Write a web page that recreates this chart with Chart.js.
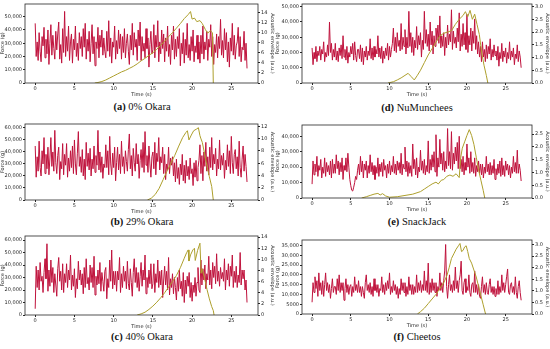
<!DOCTYPE html>
<html>
<head>
<meta charset="utf-8">
<script src="https://cdn.jsdelivr.net/npm/chart.js@4.4.1/dist/chart.umd.min.js"></script>
<style>
  body { margin: 0; background: #fff; }
  #fig { position: relative; width: 550px; height: 349px; overflow: hidden; }
  canvas { position: absolute; }
  .cap { position: absolute; width: 200px; text-align: center; font-family: "Liberation Serif", "DejaVu Serif", serif;
         font-size: 10.5px; color: #111; line-height: 12px; }
</style>
</head>
<body>
<div id="fig">
  <canvas id="ca" width="275" height="98"></canvas>
  <canvas id="cb" width="275" height="96"></canvas>
  <canvas id="cc" width="275" height="99"></canvas>
  <canvas id="cd" width="275" height="98"></canvas>
  <canvas id="ce" width="275" height="93"></canvas>
  <canvas id="cf" width="275" height="94"></canvas>
  <div class="cap" id="capa"><b>(a)</b> 0% Okara</div>
  <div class="cap" id="capb"><b>(b)</b> 29% Okara</div>
  <div class="cap" id="capc"><b>(c)</b> 40% Okara</div>
  <div class="cap" id="capd"><b>(d)</b> NuMunchees</div>
  <div class="cap" id="cape"><b>(e)</b> SnackJack</div>
  <div class="cap" id="capf"><b>(f)</b> Cheetos</div>
</div>
<script>
// force sampled every 0.125 s from 0 to 27 s
const sampleStep = 0.125;
const timeTicks = [0, 5, 10, 15, 20, 25];

// (a) 0% Okara
const forceA = [
  45000, 20000, 31000, 17000, 38000, 24000, 16000, 35000, 28000, 42000, 19000, 33000, 22000, 40000, 14000, 30000, 44000, 21000, 36000, 26000, 18000, 39000, 25000, 37000,
  46000, 18000, 29000, 15000, 41000, 23000, 54000, 20000, 35000, 24000, 43000, 17000, 31000, 37000, 15000, 33000, 25000, 43000, 20000, 30000, 17000, 38000, 26000, 35000,
  20000, 41000, 27000, 45000, 18000, 33000, 24000, 39000, 16000, 30000, 44000, 22000, 35000, 13000, 31000, 26000, 42000, 19000, 36000, 27000, 40000, 21000, 34000, 24000,
  19000, 39000, 24000, 47000, 20000, 34000, 15000, 31000, 27000, 43000, 18000, 32000, 22000, 40000, 26000, 37000, 18000, 35000, 23000, 41000, 19000, 30000, 37000, 24000,
  14000, 36000, 25000, 45000, 21000, 38000, 27000, 33000, 17000, 40000, 28000, 46000, 17000, 35000, 24000, 30000, 19000, 41000, 26000, 34000, 12000, 29000, 39000, 22000,
  25000, 44000, 19000, 36000, 27000, 47000, 16000, 31000, 22000, 40000, 26000, 37000, 16000, 34000, 24000, 43000, 20000, 29000, 14000, 36000, 25000, 43000, 18000, 33000,
  20000, 35000, 26000, 41000, 13000, 30000, 22000, 38000, 15000, 33000, 21000, 45000, 19000, 29000, 17000, 35000, 24000, 40000, 16000, 28000, 23000, 36000, 18000, 31000,
  15000, 36000, 22000, 43000, 18000, 31000, 25000, 39000, 17000, 33000, 27000, 44000, 20000, 35000, 14000, 29000, 23000, 37000, 19000, 35000, 26000, 48000, 21000, 32000,
  19000, 41000, 25000, 38000, 16000, 31000, 12000, 34000, 24000, 45000, 21000, 36000, 18000, 28000, 31000, 42000, 20000, 35000, 16000, 27000, 25000, 39000, 17000, 30000,
  11000
];
const acTimeA = [7.6, 8, 8.5, 9, 9.5, 10, 10.5, 11, 11.5, 12, 12.5, 13, 13.5, 14, 14.5, 15, 15.5, 16, 16.5, 17,
  17.5, 18, 18.5, 19, 19.5, 19.8, 20, 20.3, 20.6, 21, 21.3, 21.7, 22, 22.3, 22.6, 22.7];
const acValA = [0, 0.1, 0.3, 0.6, 1.0, 1.4, 1.8, 2.2, 2.5, 2.9, 3.3, 3.8, 4.4, 4.9, 5.5, 6.0, 6.7, 7.5, 8.3, 9.2,
  10.0, 10.9, 11.8, 12.8, 13.6, 14.2, 12.7, 12.9, 12.2, 12.4, 11.8, 10.6, 9.9, 10.4, 10.0, 0];
const forceTicksA = [0, 10000, 20000, 30000, 40000, 50000];
const acTicksA = [0, 2, 4, 6, 8, 10, 12, 14];

// (b) 29% Okara
const forceB = [
  45000, 19000, 36000, 24000, 49000, 27000, 20000, 41000, 30000, 52000, 22000, 38000, 26000, 44000, 21000, 35000, 52000, 28000, 40000, 24000, 58000, 31000, 22000, 37000,
  44000, 17000, 32000, 26000, 47000, 21000, 38000, 29000, 47000, 19000, 35000, 24000, 41000, 27000, 45000, 22000, 50000, 30000, 21000, 39000, 57000, 28000, 36000, 23000,
  42000, 20000, 34000, 17000, 48000, 28000, 39000, 25000, 43000, 20000, 34000, 26000, 45000, 23000, 37000, 29000, 58000, 25000, 40000, 23000, 36000, 18000, 30000, 27000,
  46000, 27000, 41000, 21000, 53000, 30000, 21000, 39000, 27000, 44000, 16000, 31000, 44000, 25000, 38000, 22000, 49000, 28000, 36000, 22000, 41000, 32000, 24000, 42000,
  55000, 26000, 37000, 20000, 43000, 31000, 24000, 47000, 30000, 38000, 18000, 33000, 42000, 27000, 48000, 23000, 57000, 29000, 37000, 23000, 45000, 30000, 19000, 36000,
  40000, 26000, 48000, 21000, 39000, 32000, 52000, 25000, 36000, 31000, 44000, 22000, 38000, 17000, 30000, 25000, 44000, 22000, 35000, 29000, 36000, 20000, 31000, 15000,
  34000, 18000, 27000, 13000, 30000, 21000, 38000, 16000, 29000, 14000, 33000, 20000, 28000, 17000, 35000, 22000, 26000, 12000, 31000, 19000, 33000, 16000, 27000, 33000,
  46000, 22000, 37000, 16000, 40000, 28000, 48000, 24000, 36000, 21000, 44000, 27000, 52000, 25000, 38000, 30000, 43000, 20000, 34000, 26000, 50000, 25000, 37000, 29000,
  39000, 18000, 33000, 25000, 46000, 28000, 41000, 22000, 53000, 31000, 22000, 38000, 42000, 26000, 36000, 20000, 49000, 27000, 19000, 34000, 45000, 24000, 38000, 28000,
  15000
];
const acTimeB = [14.3, 14.8, 15.3, 15.8, 16.3, 16.8, 17.3, 17.8, 18.3, 18.8, 19.2, 19.4, 19.6, 19.9, 20.2, 20.6,
  20.8, 21.0, 21.1, 21.3, 21.6, 21.9, 22.2, 22.5, 22.7];
const acValB = [0, 0.3, 0.9, 1.9, 3.3, 4.7, 6.0, 7.3, 8.8, 10.2, 11.0, 11.3, 9.8, 10.6, 11.3, 11.6,
  11.8, 10.5, 10.1, 9.4, 7.5, 5.5, 3.8, 2.2, 0];
const forceTicksB = [0, 10000, 20000, 30000, 40000, 50000, 60000];
const acTicksB = [0, 2, 4, 6, 8, 10, 12];

// (c) 40% Okara
const forceC = [
  5000, 39000, 22000, 36000, 20000, 42000, 27000, 31000, 18000, 34000, 45000, 29000, 57000, 19000, 36000, 23000, 44000, 26000, 38000, 18000, 33000, 24000, 15000, 37000,
  46000, 27000, 35000, 20000, 41000, 18000, 33000, 26000, 41000, 22000, 36000, 28000, 48000, 20000, 32000, 23000, 37000, 14000, 29000, 21000, 43000, 28000, 36000, 24000,
  33000, 17000, 38000, 22000, 45000, 25000, 30000, 20000, 40000, 26000, 38000, 22000, 47000, 16000, 31000, 24000, 36000, 25000, 42000, 19000, 34000, 27000, 19000, 35000,
  38000, 13000, 29000, 22000, 44000, 27000, 52000, 21000, 35000, 24000, 35000, 19000, 35000, 28000, 46000, 18000, 33000, 22000, 39000, 27000, 35000, 21000, 43000, 25000,
  20000, 37000, 26000, 15000, 34000, 45000, 26000, 38000, 22000, 34000, 19000, 31000, 42000, 23000, 36000, 28000, 48000, 17000, 30000, 22000, 36000, 25000, 41000, 21000,
  25000, 41000, 18000, 33000, 26000, 44000, 22000, 35000, 24000, 36000, 14000, 28000, 39000, 24000, 35000, 20000, 46000, 16000, 29000, 22000, 33000, 17000, 30000, 22000,
  12000, 30000, 19000, 36000, 21000, 27000, 15000, 34000, 10000, 28000, 17000, 31000, 23000, 34000, 14000, 26000, 11000, 24000, 18000, 30000, 15000, 26000, 38000, 20000,
  18000, 44000, 24000, 37000, 28000, 40000, 21000, 33000, 28000, 47000, 24000, 36000, 21000, 42000, 30000, 39000, 25000, 49000, 27000, 35000, 23000, 38000, 29000, 34000,
  27000, 45000, 20000, 36000, 28000, 41000, 23000, 39000, 31000, 48000, 22000, 35000, 26000, 39000, 22000, 32000, 26000, 50000, 24000, 36000, 29000, 36000, 20000, 28000,
  10000
];
const acTimeC = [13.0, 13.5, 14, 14.5, 15, 15.5, 16, 16.5, 17, 17.5, 18, 18.5, 19, 19.3, 19.5, 19.6, 19.8, 20.1,
  20.3, 20.4, 20.7, 21.0, 21.15, 21.3, 21.6, 21.9, 22.2, 22.5, 22.7, 22.8];
const acValC = [0, 0.2, 0.5, 1.0, 1.6, 2.3, 3.1, 4.0, 5.0, 6.0, 7.1, 8.5, 10.2, 11.2, 11.7, 9.7, 10.8, 11.7,
  12.0, 9.8, 11.6, 12.9, 7.5, 8.3, 6.5, 4.6, 2.9, 1.5, 0.8, 0];
const forceTicksC = [0, 10000, 20000, 30000, 40000, 50000, 60000];
const acTicksC = [0, 2, 4, 6, 8, 10, 12, 14];

// (d) NuMunchees
const forceD = [
  23000, 12000, 20000, 16000, 24000, 14000, 21000, 18000, 24000, 15000, 22000, 19000, 27000, 14000, 20000, 17000, 25000, 18000, 40000, 20000, 26000, 15000, 22000, 17000,
  26000, 15000, 21000, 14000, 23000, 18000, 25000, 16000, 31000, 17000, 22000, 15000, 24000, 13000, 20000, 17000, 24000, 19000, 26000, 15000, 27000, 18000, 14000, 22000,
  22000, 16000, 25000, 14000, 23000, 12000, 21000, 17000, 24000, 15000, 21000, 18000, 29000, 16000, 23000, 15000, 24000, 17000, 22000, 19000, 31000, 17000, 23000, 16000,
  24000, 13000, 21000, 16000, 23000, 18000, 26000, 15000, 24000, 17000, 22000, 26000, 36000, 21000, 30000, 20000, 33000, 24000, 28000, 21000, 39000, 22000, 30000, 24000,
  35000, 19000, 30000, 23000, 47000, 24000, 33000, 20000, 30000, 18000, 28000, 23000, 37000, 22000, 31000, 25000, 33000, 17000, 28000, 22000, 47000, 26000, 35000, 24000,
  32000, 21000, 40000, 25000, 34000, 19000, 31000, 24000, 36000, 28000, 38000, 26000, 44000, 23000, 31000, 24000, 33000, 18000, 30000, 23000, 38000, 25000, 32000, 27000,
  48000, 22000, 34000, 26000, 30000, 23000, 36000, 27000, 46000, 21000, 32000, 24000, 39000, 25000, 33000, 22000, 45000, 20000, 31000, 25000, 36000, 21000, 34000, 26000,
  42000, 22000, 31000, 19000, 27000, 17000, 24000, 14000, 27000, 17000, 22000, 14000, 25000, 16000, 24000, 19000, 29000, 15000, 22000, 17000, 25000, 18000, 21000, 15000,
  24000, 11000, 20000, 16000, 26000, 14000, 21000, 17000, 23000, 13000, 20000, 16000, 27000, 15000, 21000, 17000, 23000, 12000, 19000, 16000, 25000, 14000, 21000, 17000,
  10000
];
const acTimeD = [9.8, 10.5, 11, 11.5, 12, 12.4, 12.8, 13.2, 13.6, 14, 14.5, 15, 15.5, 16, 16.5, 17, 17.5, 18,
  18.5, 19, 19.5, 19.8, 20.1, 20.4, 20.7, 21, 21.3, 21.6, 21.9, 22.2, 22.5, 22.7];
const acValD = [0, 0.05, 0.12, 0.2, 0.3, 0.38, 0.25, 0.12, 0.3, 0.5, 0.8, 1.1, 1.35, 1.6, 1.85, 1.95, 2.0, 2.05,
  2.3, 2.5, 2.65, 2.8, 2.6, 2.85, 2.5, 2.7, 2.3, 1.9, 1.2, 0.7, 0.3, 0];
const forceTicksD = [0, 10000, 20000, 30000, 40000, 50000];
const acTicksD = [0, 0.5, 1.0, 1.5, 2.0, 2.5, 3.0];

// (e) SnackJack
const forceE = [
  9000, 24000, 15000, 22000, 17000, 27000, 14000, 21000, 18000, 25000, 13000, 20000, 16000, 26000, 14000, 23000, 17000, 21000, 15000, 24000, 13000, 25000, 16000, 22000,
  16000, 28000, 19000, 24000, 15000, 23000, 17000, 26000, 12000, 21000, 18000, 26000, 17000, 29000, 20000, 12000, 8000, 5000, 4500, 7000, 10000, 14000, 12000, 18000,
  22000, 15000, 27000, 17000, 24000, 13000, 22000, 18000, 24000, 13000, 21000, 16000, 28000, 17000, 23000, 15000, 21000, 12000, 20000, 16000, 26000, 14000, 22000, 17000,
  23000, 14000, 25000, 18000, 21000, 13000, 22000, 16000, 24000, 15000, 21000, 17000, 27000, 16000, 22000, 15000, 24000, 18000, 23000, 16000, 29000, 15000, 22000, 19000,
  33000, 17000, 24000, 14000, 23000, 16000, 21000, 14000, 35000, 19000, 25000, 15000, 26000, 13000, 20000, 17000, 31000, 18000, 24000, 16000, 25000, 15000, 21000, 17000,
  37000, 16000, 25000, 18000, 28000, 20000, 30000, 17000, 41000, 14000, 26000, 20000, 38000, 22000, 29000, 18000, 30000, 17000, 24000, 19000, 45000, 21000, 30000, 19000,
  43000, 18000, 29000, 22000, 33000, 24000, 36000, 19000, 40000, 19000, 25000, 17000, 27000, 15000, 23000, 18000, 35000, 20000, 26000, 16000, 30000, 17000, 23000, 16000,
  26000, 14000, 21000, 17000, 24000, 16000, 22000, 15000, 22000, 13000, 20000, 16000, 27000, 17000, 22000, 15000, 23000, 15000, 21000, 16000, 25000, 12000, 19000, 15000,
  22000, 16000, 24000, 14000, 26000, 15000, 21000, 14000, 24000, 18000, 22000, 15000, 21000, 13000, 20000, 16000, 27000, 17000, 23000, 16000, 31000, 16000, 22000, 18000,
  11000
];
const acTimeE = [6.4, 7, 7.5, 8, 8.5, 8.8, 9.1, 9.5, 10, 11, 12, 13, 14, 14.5, 15, 15.5, 16, 16.3, 16.7, 17,
  17.4, 17.8, 18.2, 18.6, 19, 19.2, 19.4, 19.7, 20, 20.3, 20.6, 20.9, 21.2, 21.5, 21.8, 22.1, 22.3];
const acValE = [0, 0.05, 0.1, 0.15, 0.18, 0.12, 0.17, 0.08, 0.03, 0.05, 0.1, 0.15, 0.25, 0.35, 0.45, 0.55, 0.62, 0.55, 0.7, 0.72,
  0.85, 0.9, 0.85, 0.95, 0.8, 1.6, 1.95, 2.2, 2.45, 2.68, 2.45, 2.1, 1.6, 1.1, 0.7, 0.3, 0];
const forceTicksE = [0, 10000, 20000, 30000, 40000];
const acTicksE = [0, 0.5, 1.0, 1.5, 2.0, 2.5];

// (f) Cheetos
const forceF = [
  6000, 16000, 11000, 19000, 13000, 17000, 9000, 21000, 12000, 16000, 10000, 17000, 9000, 15000, 21000, 12000, 16000, 11000, 15000, 8000, 13000, 18000, 11000, 14000,
  14000, 10000, 18000, 12000, 20000, 11000, 16000, 12000, 16000, 7000, 13000, 18000, 11000, 15000, 10000, 14000, 15000, 9000, 14000, 11000, 19000, 12000, 15000, 11000,
  17000, 11000, 14000, 9000, 14000, 11000, 8000, 16000, 20000, 12000, 15000, 11000, 16000, 10000, 14000, 9000, 18000, 12000, 15000, 11000, 15000, 9000, 13000, 12000,
  19000, 11000, 15000, 10000, 16000, 12000, 17000, 13000, 21000, 10000, 14000, 11000, 17000, 12000, 15000, 10000, 14000, 8000, 13000, 10000, 18000, 12000, 16000, 11000,
  16000, 9000, 14000, 10000, 19000, 12000, 15000, 10000, 15000, 10000, 14000, 11000, 20000, 11000, 16000, 12000, 17000, 11000, 15000, 12000, 22000, 12000, 17000, 11000,
  26000, 10000, 16000, 11000, 18000, 12000, 16000, 11000, 16000, 9000, 14000, 12000, 21000, 12000, 16000, 11000, 17000, 22000, 35500, 14000, 8000, 15000, 20000, 12000,
  15000, 11000, 17000, 12000, 24000, 13000, 17000, 11000, 17000, 20000, 27000, 12000, 10000, 16000, 18000, 11000, 14000, 12000, 20000, 11000, 9000, 15000, 16000, 11000,
  22000, 11000, 15000, 10000, 15000, 9000, 8000, 14000, 19000, 11000, 15000, 10000, 16000, 11000, 10000, 15000, 18000, 11000, 14000, 10000, 14000, 9000, 13000, 10000,
  17000, 10000, 14000, 11000, 20000, 12000, 16000, 11000, 15000, 19000, 23000, 11000, 10000, 15000, 16000, 11000, 14000, 10000, 19000, 11000, 8000, 14000, 17000, 11000,
  7000
];
const acTimeF = [13.6, 14, 14.5, 15, 15.5, 16, 16.5, 17, 17.4, 17.7, 18, 18.3, 18.6, 18.9, 19.1, 19.3, 19.5, 19.7,
  19.9, 20.1, 20.3, 20.6, 20.9, 21.2, 21.5, 21.8, 22.1, 22.4];
const acValF = [0, 0.1, 0.25, 0.45, 0.65, 0.85, 1.1, 1.35, 1.65, 2.0, 2.4, 2.6, 2.8, 2.95, 3.05, 2.7, 2.75, 2.9,
  2.95, 2.7, 2.4, 2.2, 1.9, 1.6, 1.2, 0.8, 0.4, 0];
const forceTicksF = [0, 5000, 10000, 15000, 20000, 25000, 30000, 35000];
const acTicksF = [0, 0.5, 1.0, 1.5, 2.0, 2.5, 3.0];

const tickFont = { family: 'DejaVu Sans', size: 5 };
const inkColor = '#262626';

// box around the plot area (matplotlib style frame)
const framePlugin = {
  id: 'frame',
  afterDatasetsDraw(chart) {
    const a = chart.chartArea;
    const ctx = chart.ctx;
    ctx.save();
    ctx.strokeStyle = inkColor;
    ctx.lineWidth = 0.8;
    ctx.strokeRect(a.left, a.top, a.right - a.left, a.bottom - a.top);
    ctx.restore();
  }
};

function fmtForce(v) {
  return v >= 10000 ? v.toLocaleString('en-US') : String(v);
}

function makePanel(p) {
  const canvas = document.getElementById(p.id);
  canvas.style.left = p.left + 'px';
  canvas.style.top = p.top + 'px';

  const forcePts = p.force.map((f, i) => ({ x: i * sampleStep, y: f }));
  const acPts = p.acT.map((t, i) => ({ x: t, y: p.acV[i] }));

  new Chart(canvas, {
    type: 'line',
    data: {
      datasets: [
        { label: 'Acoustic envelope', data: acPts, yAxisID: 'y1', borderColor: '#ad9f2c',
          borderWidth: 1, pointRadius: 0, tension: 0 },
        { label: 'Force', data: forcePts, yAxisID: 'y', borderColor: '#bf123c',
          borderWidth: 1, pointRadius: 0, tension: 0 }
      ]
    },
    options: {
      responsive: false,
      animation: false,
      parsing: false,
      layout: { padding: { top: p.padTop, left: 0, right: 0, bottom: 0 } },
      plugins: { legend: { display: false }, tooltip: { enabled: false } },
      scales: {
        x: {
          type: 'linear', min: -1.3, max: 28.4,
          afterBuildTicks: s => { s.ticks = timeTicks.map(v => ({ value: v })); },
          afterFit: s => { s.height = 15; },
          border: { display: false },
          grid: { drawOnChartArea: false, drawTicks: true, tickLength: 2, color: inkColor },
          ticks: { font: tickFont, color: inkColor, padding: 1, maxRotation: 0 },
          title: { display: true, text: 'Time (s)', font: tickFont, color: inkColor, padding: 0 }
        },
        y: {
          position: 'left', min: 0, max: p.fMax,
          afterBuildTicks: s => { s.ticks = p.fTicks.map(v => ({ value: v })); },
          afterFit: s => { s.width = p.leftW; },
          border: { display: false },
          grid: { drawOnChartArea: false, drawTicks: true, tickLength: 2, color: inkColor },
          ticks: { font: tickFont, color: inkColor, padding: 1, callback: v => fmtForce(v) },
          title: { display: true, text: 'Force (g)', font: tickFont, color: inkColor, padding: 0 }
        },
        y1: {
          position: 'right', min: 0, max: p.aMax,
          afterBuildTicks: s => { s.ticks = p.aTicks.map(v => ({ value: v })); },
          afterFit: s => { s.width = p.rightW; },
          border: { display: false },
          grid: { drawOnChartArea: false, drawTicks: true, tickLength: 2, color: inkColor },
          ticks: { font: tickFont, color: inkColor, padding: 1, callback: v => v.toFixed(p.aDec) },
          title: { display: true, text: 'Acoustic envelope (a.u.)', font: tickFont, color: inkColor, padding: 0 }
        }
      }
    },
    plugins: [framePlugin]
  });
}

const panels = [
  { id: 'ca', left: 0, top: 0, padTop: 4, leftW: 25, rightW: 17, force: forceA, acT: acTimeA, acV: acValA,
    fMax: 59600, fTicks: forceTicksA, aMax: 15.7, aTicks: acTicksA, aDec: 0 },
  { id: 'cb', left: 0, top: 119, padTop: 5, leftW: 25, rightW: 17, force: forceB, acT: acTimeB, acV: acValB,
    fMax: 63300, fTicks: forceTicksB, aMax: 12.4, aTicks: acTicksB, aDec: 0 },
  { id: 'cc', left: 0, top: 231, padTop: 5, leftW: 25, rightW: 17, force: forceC, acT: acTimeC, acV: acValC,
    fMax: 63200, fTicks: forceTicksC, aMax: 14.2, aTicks: acTicksC, aDec: 0 },
  { id: 'cd', left: 275, top: 0, padTop: 4, leftW: 27, rightW: 18, force: forceD, acT: acTimeD, acV: acValD,
    fMax: 51800, fTicks: forceTicksD, aMax: 3.1, aTicks: acTicksD, aDec: 1 },
  { id: 'ce', left: 275, top: 120, padTop: 5, leftW: 27, rightW: 18, force: forceE, acT: acTimeE, acV: acValE,
    fMax: 47300, fTicks: forceTicksE, aMax: 2.86, aTicks: acTicksE, aDec: 1 },
  { id: 'cf', left: 275, top: 235, padTop: 5, leftW: 27, rightW: 18, force: forceF, acT: acTimeF, acV: acValF,
    fMax: 37800, fTicks: forceTicksF, aMax: 3.2, aTicks: acTicksF, aDec: 1 }
];
panels.forEach(makePanel);

// captions under each panel, centred on the plot area
const captions = [
  ['capa', 42, 101], ['capb', 42, 216], ['capc', 42, 331],
  ['capd', 317, 102], ['cape', 317, 216], ['capf', 317, 331]
];
captions.forEach(([id, x, y]) => {
  const el = document.getElementById(id);
  el.style.left = x + 'px';
  el.style.top = y + 'px';
});
</script>
</body>
</html>
